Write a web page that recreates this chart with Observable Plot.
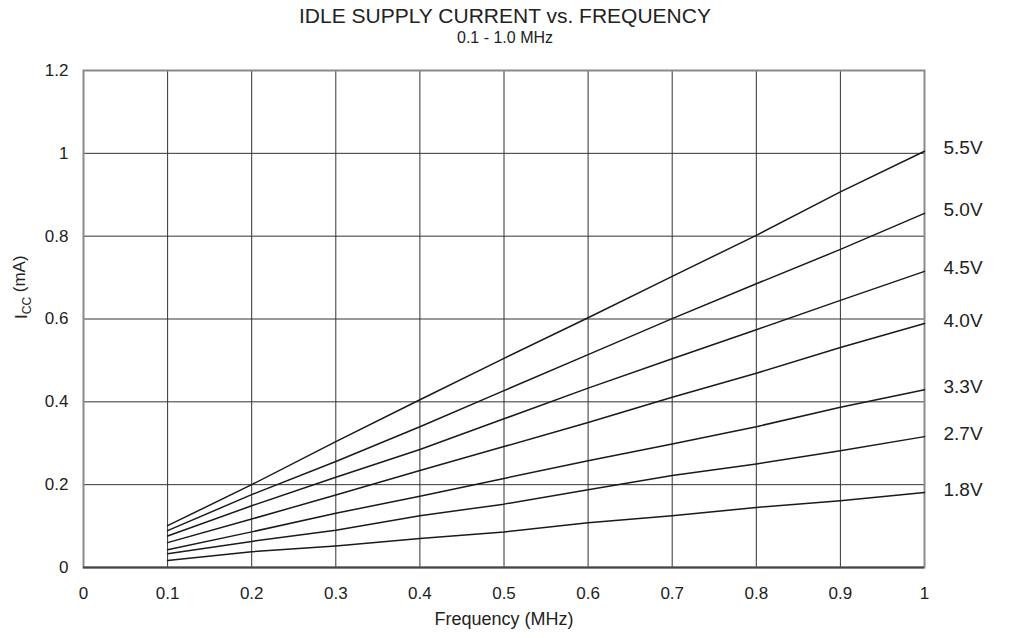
<!DOCTYPE html>
<html>
<head>
<meta charset="utf-8">
<script src="https://cdn.jsdelivr.net/npm/d3@7"></script>
<script src="https://cdn.jsdelivr.net/npm/@observablehq/plot@0.6"></script>
<style>
  html, body { margin: 0; padding: 0; background: #fff; }
  body { width: 1010px; height: 638px; overflow: hidden; font-family: "Liberation Sans", Arial, sans-serif; color: #222; }
  #head { height: 50px; position: relative; }
  #title { position: absolute; left: 0; width: 1010px; top: 4px; text-align: center; font-size: 21px; line-height: 24px; }
  #subtitle { position: absolute; left: 0; width: 1010px; top: 29px; text-align: center; font-size: 16px; line-height: 18px; }
</style>
</head>
<body>
<div id="head">
  <div id="title">IDLE SUPPLY CURRENT vs. FREQUENCY</div>
  <div id="subtitle">0.1 - 1.0 MHz</div>
</div>
<div id="chart"></div>
<script>
const frequency = [0.1, 0.2, 0.3, 0.4, 0.5, 0.6, 0.7, 0.8, 0.9, 1.0];
const voltages = ["5.5V", "5.0V", "4.5V", "4.0V", "3.3V", "2.7V", "1.8V"];
const icc_5v5 = [0.101, 0.200, 0.304, 0.405, 0.505, 0.603, 0.703, 0.802, 0.907, 1.005];
const icc_5v0 = [0.089, 0.176, 0.256, 0.340, 0.427, 0.514, 0.601, 0.685, 0.768, 0.855];
const icc_4v5 = [0.076, 0.149, 0.218, 0.285, 0.359, 0.433, 0.504, 0.574, 0.645, 0.715];
const icc_4v0 = [0.060, 0.117, 0.175, 0.234, 0.292, 0.350, 0.411, 0.469, 0.531, 0.589];
const icc_3v3 = [0.043, 0.086, 0.131, 0.172, 0.215, 0.258, 0.298, 0.340, 0.387, 0.429];
const icc_2v7 = [0.033, 0.063, 0.090, 0.125, 0.153, 0.188, 0.222, 0.250, 0.282, 0.316];
const icc_1v8 = [0.017, 0.038, 0.052, 0.070, 0.086, 0.108, 0.125, 0.145, 0.161, 0.181];
const xTicks = [0, 0.1, 0.2, 0.3, 0.4, 0.5, 0.6, 0.7, 0.8, 0.9, 1];
const yTicks = [0, 0.2, 0.4, 0.6, 0.8, 1, 1.2];

const seriesValues = [icc_5v5, icc_5v0, icc_4v5, icc_4v0, icc_3v3, icc_2v7, icc_1v8];
const rows = [];
voltages.forEach((v, i) => {
  frequency.forEach((f, j) => rows.push({voltage: v, f, icc: seriesValues[i][j]}));
});
const ends = voltages.map((v, i) => ({voltage: v, f: frequency[frequency.length - 1], icc: seriesValues[i][seriesValues[i].length - 1]}));

const fmt = d => String(d);

const plot = Plot.plot({
  width: 1010,
  height: 588,
  marginTop: 20,
  marginBottom: 71,
  marginLeft: 83,
  marginRight: 86,
  style: {fontFamily: '"Liberation Sans", Arial, sans-serif', fontSize: "17px", color: "#222", background: "#fff"},
  x: {domain: [0, 1], ticks: xTicks},
  y: {domain: [0, 1.2], ticks: yTicks},
  marks: [
    Plot.gridX(xTicks, {stroke: "#333", strokeOpacity: 1, strokeWidth: 1}),
    Plot.gridY(yTicks, {stroke: "#333", strokeOpacity: 1, strokeWidth: 1}),
    Plot.frame({stroke: "#8a8a8a", strokeWidth: 2}),
    Plot.ruleY([0], {stroke: "#444", strokeWidth: 2}),
    Plot.axisX(xTicks, {tickSize: 0, tickPadding: 19, tickFormat: fmt, label: null, fontSize: 17, fill: "#222"}),
    Plot.axisY(yTicks, {tickSize: 0, tickPadding: 15, tickFormat: fmt, label: null, fontSize: 17, fill: "#222"}),
    Plot.line(rows, {x: "f", y: "icc", z: "voltage", stroke: "#1a1a1a", strokeWidth: 1.5}),
    Plot.text(ends, {x: "f", y: "icc", text: "voltage", textAnchor: "start", dx: 19, dy: -3, fontSize: 19, fill: "#222"}),
    Plot.text(["Frequency (MHz)"], {frameAnchor: "bottom", dy: 57, fontSize: 18, fill: "#222"}),
    Plot.text(["ICC (mA)"], {frameAnchor: "left", dx: -62, rotate: -90, fontSize: 17, fill: "#222", className: "ylab"})
  ]
});

document.getElementById("chart").appendChild(plot);

// subscript for I_CC
d3.select(plot).selectAll("text").each(function() {
  const t = d3.select(this);
  if (t.text() === "ICC (mA)") {
    t.text(null);
    t.append("tspan").text("I");
    t.append("tspan").attr("font-size", 12).attr("dy", "0.3em").text("CC");
    t.append("tspan").attr("dy", "-0.3em").text(" (mA)");
  }
});
</script>
</body>
</html>
